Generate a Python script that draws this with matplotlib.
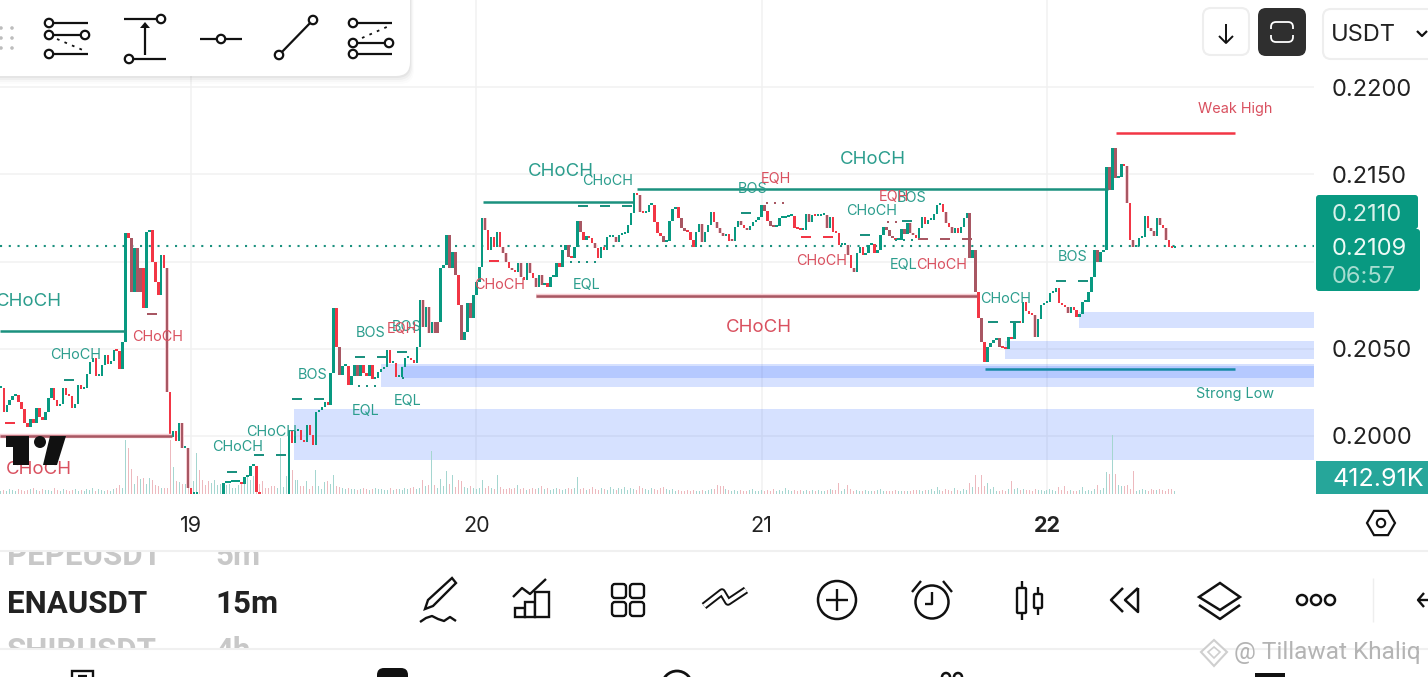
import numpy as np
import matplotlib
matplotlib.use('Agg')
import matplotlib.pyplot as plt
from matplotlib.patches import FancyBboxPatch, Rectangle, Circle, Polygon

plt.rcParams['font.family'] = ['Inter', 'DejaVu Sans']

# ---- candles, 15m: one close per bar (in 1e-4 USDT), open = previous close
first_bar_day = 18 + 32 / 96
bar_step = 1 / 96
closes = np.array([
    2027.5, 2013.8, 2017.8, 2020.6, 2022.9, 2023.5, 2019.5, 2015.5, 2007.4, 2005.2,
    2009.7, 2007.4, 2016.0, 2010.9, 2009.2, 2013.8, 2021.8, 2027.5, 2020.6, 2017.2,
    2018.3, 2027.5, 2023.5, 2022.9, 2016.0, 2018.3, 2029.2, 2026.9, 2027.5, 2035.5,
    2042.4, 2044.7, 2034.4, 2034.4, 2040.7, 2046.4, 2041.3, 2043.0, 2049.3, 2048.7,
    2038.4, 2053.9, 2116.3, 2113.5, 2082.5, 2107.7, 2082.5, 2096.3, 2073.3, 2116.9,
    2118.0, 2099.7, 2088.2, 2080.8, 2103.7, 2096.3, 2025.2, 1999.4, 2002.9, 1997.1,
    2007.4, 1993.1, 1993.1, 1970.2, 1966.8, 1966.8, 1966.8, 1965.0, 1964.0, 1962.0,
    1961.0, 1961.0, 1962.0, 1963.0, 1965.0, 1973.1, 1973.1, 1973.6, 1973.6, 1973.6,
    1973.6, 1972.5, 1976.5, 1977.1, 1982.8, 1982.8, 1967.9, 1966.8, 1965.0, 1964.0,
    1963.0, 1962.0, 1961.0, 1961.0, 1962.0, 1963.0, 1964.0, 2003.4, 1996.0, 2002.9,
    2003.4, 1997.7, 1996.6, 2006.3, 2000.6, 1994.8, 2013.8, 2014.9, 2016.6, 2019.5,
    2017.8, 2036.1, 2073.3, 2051.0, 2035.0, 2040.1, 2040.1, 2029.2, 2034.4, 2040.7,
    2034.4, 2040.7, 2036.1, 2034.4, 2040.7, 2032.7, 2033.2, 2036.7, 2038.4, 2039.5,
    2049.3, 2041.8, 2041.8, 2033.8, 2033.8, 2039.5, 2044.7, 2044.7, 2043.5, 2041.8,
    2051.0, 2077.9, 2062.5, 2073.9, 2059.0, 2065.3, 2059.0, 2065.3, 2096.3, 2098.0,
    2115.2, 2096.3, 2105.4, 2092.3, 2075.1, 2055.0, 2059.6, 2076.2, 2067.6, 2080.8,
    2088.2, 2096.8, 2124.9, 2118.0, 2106.6, 2114.0, 2108.3, 2116.9, 2108.3, 2104.9,
    2099.7, 2096.3, 2095.1, 2094.0, 2099.1, 2091.1, 2089.4, 2099.1, 2093.4, 2090.5,
    2085.4, 2092.3, 2086.5, 2087.7, 2085.4, 2091.1, 2091.1, 2099.1, 2096.8, 2106.6,
    2109.4, 2102.6, 2102.0, 2108.3, 2123.2, 2116.9, 2112.3, 2114.6, 2113.5, 2110.6,
    2107.7, 2102.0, 2108.3, 2106.6, 2114.0, 2114.0, 2114.0, 2111.2, 2115.2, 2115.7,
    2116.3, 2120.9, 2127.8, 2139.2, 2138.1, 2128.4, 2127.8, 2128.4, 2132.4, 2132.4,
    2122.6, 2116.3, 2114.6, 2111.2, 2111.7, 2123.2, 2130.1, 2131.2, 2124.9, 2119.2,
    2117.5, 2116.9, 2112.3, 2108.3, 2116.9, 2121.5, 2111.2, 2116.9, 2120.9, 2128.4,
    2122.6, 2119.2, 2116.3, 2114.6, 2115.7, 2111.7, 2111.7, 2119.8, 2123.2, 2120.9,
    2119.2, 2118.0, 2120.3, 2122.6, 2123.8, 2125.5, 2132.4, 2128.9, 2123.2, 2120.3,
    2119.8, 2120.3, 2124.9, 2124.9, 2125.5, 2126.1, 2126.1, 2119.2, 2118.6, 2118.0,
    2118.0, 2127.2, 2122.6, 2126.6, 2126.1, 2126.1, 2126.6, 2126.6, 2119.2, 2125.5,
    2116.9, 2116.3, 2109.4, 2109.4, 2109.4, 2103.7, 2096.3, 2094.0, 2104.9, 2108.3,
    2103.7, 2104.9, 2109.4, 2110.0, 2104.9, 2106.6, 2115.2, 2119.8, 2118.0, 2114.6,
    2113.5, 2112.3, 2112.3, 2118.6, 2115.7, 2122.0, 2116.3, 2115.2, 2113.5, 2119.2,
    2125.5, 2121.5, 2123.8, 2123.8, 2127.2, 2132.4, 2132.9, 2128.4, 2122.0, 2119.8,
    2116.3, 2119.2, 2116.3, 2119.8, 2124.9, 2127.8, 2102.0, 2106.6, 2082.5, 2067.6,
    2053.9, 2042.4, 2051.0, 2053.3, 2055.0, 2056.2, 2051.0, 2050.4, 2049.9, 2056.7,
    2055.6, 2064.7, 2065.3, 2064.7, 2076.8, 2071.6, 2069.9, 2069.3, 2056.7, 2067.0,
    2075.1, 2076.2, 2076.8, 2081.9, 2082.5, 2084.8, 2076.2, 2075.1, 2073.9, 2070.5,
    2073.9, 2072.2, 2068.2, 2069.9, 2076.8, 2076.8, 2082.5, 2091.1, 2106.6, 2099.7,
    2105.4, 2106.6, 2154.1, 2141.0, 2165.0, 2147.8, 2148.4, 2155.9, 2154.7, 2133.5,
    2112.3, 2108.3, 2108.9, 2113.5, 2114.0, 2126.1, 2119.2, 2117.5, 2114.6, 2124.9,
    2120.9, 2119.2, 2112.3, 2108.3, 2107.7, 2108.9]) / 1e4

# bars that show up as a dull red on the screenshot
dull_bars = [44, 46, 47, 56, 61, 63, 114, 120, 142, 144, 146, 147, 151, 153, 155, 158,
             163, 169, 170, 172, 175, 178, 180, 182, 191, 195, 200, 207, 215, 223, 229,
             230, 236, 241, 242, 243, 246, 249, 251, 257, 259, 260, 272, 278, 285, 287,
             298, 299, 300, 304, 306, 307, 318, 320, 326, 328, 330, 336, 348, 359, 369,
             373, 375, 379, 381, 387, 388, 390, 392]

# volume, read in steps of 80K
volumes = np.array([
    3, 4, 3, 5, 4, 3, 5, 4, 3, 4, 5, 6, 4, 3, 5, 4, 4, 3, 6, 4,
    3, 5, 4, 3, 4, 5, 3, 4, 3, 5, 4, 6, 3, 5, 4, 3, 4, 3, 5, 6,
    9, 6, 54, 46, 25, 10, 18, 15, 16, 10, 16, 14, 9, 8, 6, 6, 6, 54, 27, 13,
    12, 10, 10, 15, 12, 13, 41, 24, 14, 9, 13, 11, 14, 9, 10, 9, 9, 10, 6, 6,
    9, 10, 10, 18, 14, 18, 14, 10, 13, 6, 6, 8, 8, 6, 56, 7, 18, 18, 24, 14,
    14, 8, 8, 13, 5, 8, 24, 8, 5, 12, 13, 10, 19, 8, 7, 6, 5, 6, 5, 5,
    4, 5, 6, 5, 4, 5, 6, 5, 5, 4, 4, 6, 4, 5, 5, 4, 6, 5, 6, 7,
    5, 6, 14, 8, 9, 43, 9, 6, 15, 8, 23, 10, 19, 7, 14, 13, 7, 6, 8, 6,
    5, 6, 14, 6, 8, 6, 5, 19, 7, 5, 5, 6, 5, 6, 9, 5, 6, 4, 5, 6,
    5, 6, 8, 5, 6, 4, 5, 6, 5, 4, 5, 6, 5, 6, 17, 5, 6, 4, 5, 7,
    5, 4, 6, 5, 4, 7, 5, 4, 6, 5, 7, 4, 6, 5, 4, 8, 6, 5, 4, 6,
    5, 4, 6, 7, 5, 4, 5, 3, 4, 3, 3, 4, 3, 4, 3, 3, 4, 3, 4, 5,
    5, 9, 8, 8, 5, 4, 3, 4, 3, 4, 3, 3, 4, 5, 3, 3, 4, 3, 4, 3,
    5, 3, 4, 3, 6, 4, 3, 4, 3, 4, 3, 4, 3, 4, 3, 4, 3, 3, 4, 5,
    4, 4, 11, 3, 5, 9, 5, 3, 4, 3, 3, 4, 3, 3, 3, 4, 5, 3, 3, 3,
    3, 4, 3, 3, 3, 3, 3, 4, 4, 4, 3, 4, 4, 5, 3, 7, 4, 3, 5, 4,
    3, 6, 4, 3, 5, 4, 11, 7, 19, 7, 19, 8, 11, 5, 7, 3, 3, 4, 3, 5,
    13, 5, 6, 4, 5, 4, 4, 3, 5, 4, 4, 3, 4, 5, 4, 3, 7, 4, 8, 3,
    4, 3, 3, 4, 7, 3, 4, 3, 5, 9, 4, 6, 22, 20, 59, 20, 9, 8, 8, 9,
    5, 23, 3, 4, 5, 4, 3, 5, 4, 4, 5, 4, 3, 5, 5, 3]) * 80

last_price = 0.2109
price_ticks = [0.2200, 0.2150, 0.2100, 0.2050, 0.2000]
price_labels = ['0.2200', '0.2150', '', '0.2050', '0.2000']  # 0.2100 sits under the price tag
day_ticks = [19, 20, 21, 22]

# order blocks: start day, low, high
block_starts = [19.361, 19.666, 19.736, 21.853, 22.112]
block_lows = [0.19862, 0.20281, 0.20332, 0.20441, 0.20619]
block_highs = [0.20155, 0.20413, 0.20401, 0.20544, 0.20711]

# structure lines
line_from = [18.33, 18.33, 20.023, 20.563, 20.209, 22.242, 21.783]
line_to = [18.772, 18.933, 20.553, 22.214, 21.755, 22.659, 22.659]
line_price = [0.20602, 0.2000, 0.21341, 0.21413, 0.20802, 0.21739, 0.20384]
line_kind = ['green', 'dull', 'green', 'green', 'dull', 'red', 'blue']

# dashed swing levels
dash_from = [18.846, 18.555, 18.348, 19.126, 19.221, 19.354, 19.575, 19.722, 20.044,
             20.356, 20.928, 21.138, 21.345, 21.492, 21.548, 22.032, 21.793]
dash_to = [18.881, 18.590, 18.390, 19.161, 19.333, 19.466, 19.687, 19.757, 20.079,
           20.549, 20.963, 21.250, 21.380, 21.527, 21.737, 22.144, 21.905]
dash_price = [0.20699, 0.20321, 0.20074, 0.19794, 0.19891, 0.20212, 0.20453, 0.20481, 0.21003,
              0.21318, 0.21278, 0.21140, 0.21152, 0.21232, 0.21129, 0.20888, 0.20653]
dash_kind = ['dull', 'green', 'red', 'green', 'green', 'green', 'green', 'green', 'red',
             'green', 'green', 'red', 'green', 'green', 'dull', 'green', 'green']

# dotted equal highs / lows
dot_from = [19.585, 19.739, 20.328, 21.015, 21.439, 21.467]
dot_to = [19.655, 19.767, 20.433, 21.082, 21.492, 21.530]
dot_price = [0.20287, 0.20332, 0.20997, 0.21335, 0.21226, 0.21123]
dot_kind = ['green', 'green', 'green', 'dull', 'dull', 'green']

GREEN = '#089981'
RED = '#f23645'
DULL = '#a85763'
PINK = '#f7cdd3'
TEXT_GREEN = '#2b9d8d'
TEXT_RED = '#d9505f'
kind_color = {'green': '#1b917f', 'dull': DULL, 'red': RED, 'blue': '#178aa6'}

fig = plt.figure(figsize=(14.28, 6.77), dpi=100)

# chart area: pixels 0-1314 wide, 0-494 from the top
ax = fig.add_axes([0, 1 - 494 / 677, 1314 / 1428, 494 / 677])
ax.set_xlim(18.3306, 22.9358)
ax.set_ylim(0.196676, 0.224987)
for s in ax.spines.values():
    s.set_visible(False)
ax.set_axisbelow(True)
ax.grid(True, color='#f1f1f1', lw=1.1)

for start, low, high in zip(block_starts, block_lows, block_highs):
    ax.axhspan(low, high, xmin=(start - 18.3306) / (22.9358 - 18.3306), xmax=1,
               color='#2962ff', alpha=0.19, lw=0, zorder=1)

# volume shares the x axis, own scale
ax_vol = ax.twinx()
ax_vol.set_ylim(0, 494 * 80)
ax_vol.axis('off')
ax_vol.patch.set_visible(False)

days = first_bar_day + np.arange(len(closes)) * bar_step
opens = np.r_[closes[0], closes[:-1]]
up = closes >= opens
ax_vol.bar(days, volumes, width=0.0035, color=np.where(up, '#a5d6d0', '#edb9be'), lw=0, zorder=1)

# candles go on a third layer so that they stay over the volume
ax_c = ax.twinx()
ax_c.set_ylim(ax.get_ylim())
ax_c.axis('off')
ax_c.patch.set_visible(False)

# twinx moved the price ticks to the left, put them back
ax.yaxis.tick_right()
ax.set_yticks(price_ticks)
ax.set_yticklabels(price_labels, fontsize=17, color='#222222')
ax.set_xticks(day_ticks)
ax.set_xticklabels([str(d) for d in day_ticks], fontsize=15.5, color='#222222')
ax.get_xticklabels()[-1].set_fontweight('bold')
ax.tick_params(axis='both', length=0)
ax.tick_params(axis='y', pad=13)
ax.tick_params(axis='x', pad=16)

ax_c.axhline(last_price, color='#1b917f', lw=1.5, linestyle=(0, (1, 3.2)), zorder=2)

bar_colors = np.where(up, GREEN, RED).astype(object)
bar_colors[dull_bars] = DULL
bottoms = np.minimum(opens, closes)
heights = np.maximum(np.abs(closes - opens), 0.0001)
halo = np.array(dull_bars)
ax_c.bar(days[halo], heights[halo], bottom=bottoms[halo], width=0.0125, color=PINK, lw=0, zorder=3)
ax_c.bar(days, heights, bottom=bottoms, width=0.0085, color=list(bar_colors), lw=0, zorder=4)

for x0, x1, p, k in zip(line_from, line_to, line_price, line_kind):
    if k == 'dull':
        ax_c.plot([x0, x1], [p, p], color=PINK, lw=3.2, solid_capstyle='butt', zorder=4)
    ax_c.plot([x0, x1], [p, p], color=kind_color[k], lw=1.8, solid_capstyle='butt', zorder=5)
for x0, x1, p, k in zip(dash_from, dash_to, dash_price, dash_kind):
    ax_c.plot([x0, x1], [p, p], color=kind_color[k], lw=1.44, linestyle=(0, (5, 6)), zorder=5)
for x0, x1, p, k in zip(dot_from, dot_to, dot_price, dot_kind):
    ax_c.plot([x0, x1], [p, p], color=kind_color[k], lw=1.44, linestyle=(0, (1, 3)), zorder=5)

# ---- everything on top of the chart, in screen pixels
ui = fig.add_axes([0, 0, 1, 1])
ui.set_xlim(0, 1428)
ui.set_ylim(677, 0)
ui.axis('off')
ui.patch.set_visible(False)

BIG = 13.4
SMALL = 10.4
labels = [
    ('CHoCH', 29, 301, TEXT_GREEN, BIG), ('CHoCH', 561, 171, TEXT_GREEN, BIG),
    ('CHoCH', 873, 159, TEXT_GREEN, BIG), ('CHoCH', 759, 327, TEXT_RED, BIG),
    ('CHoCH', 39, 468, TEXT_RED, BIG),
    ('CHoCH', 76, 354, TEXT_GREEN, SMALL), ('CHoCH', 238, 446, TEXT_GREEN, SMALL),
    ('CHoCH', 272, 431, TEXT_GREEN, SMALL), ('CHoCH', 608, 180, TEXT_GREEN, SMALL),
    ('CHoCH', 872, 210, TEXT_GREEN, SMALL), ('CHoCH', 1006, 298, TEXT_GREEN, SMALL),
    ('CHoCH', 158, 336, TEXT_RED, SMALL), ('CHoCH', 500, 284, TEXT_RED, SMALL),
    ('CHoCH', 822, 260, TEXT_RED, SMALL), ('CHoCH', 942, 264, TEXT_RED, SMALL),
    ('BOS', 313, 374, TEXT_GREEN, SMALL), ('BOS', 371, 332, TEXT_GREEN, SMALL),
    ('BOS', 407, 326, TEXT_GREEN, SMALL), ('BOS', 753, 188, TEXT_GREEN, SMALL),
    ('BOS', 912, 197, TEXT_GREEN, SMALL), ('BOS', 1073, 256, TEXT_GREEN, SMALL),
    ('EQL', 366, 410, TEXT_GREEN, SMALL), ('EQL', 408, 400, TEXT_GREEN, SMALL),
    ('EQL', 587, 284, TEXT_GREEN, SMALL), ('EQL', 904, 264, TEXT_GREEN, SMALL),
    ('EQH', 402, 328, TEXT_RED, SMALL), ('EQH', 776, 178, TEXT_RED, SMALL),
    ('EQH', 894, 196, TEXT_RED, SMALL),
    ('Weak High', 1235, 108, TEXT_RED, SMALL), ('Strong Low', 1235, 393, TEXT_GREEN, SMALL),
]
for txt, x, y, c, fs in labels:
    ui.text(x, y + 1, txt, color=c, fontsize=fs, ha='center', va='center')


def box(x0, y0, x1, y1, fc, ec='none', r=6, lw=1.5, z=5, alpha=None):
    ui.add_patch(FancyBboxPatch((x0, y0), x1 - x0, y1 - y0, boxstyle='round,pad=0,rounding_size=%g' % r,
                                fc=fc, ec=ec, lw=lw, zorder=z, alpha=alpha))


def stroke(xs, ys, lw=1.6, c='#111111', z=7, **kw):
    ui.plot(xs, ys, color=c, lw=lw, zorder=z, solid_capstyle=kw.pop('cap', 'butt'), **kw)


def ring(x, y, r=4.2, c='#111111', lw=1.6, z=8, fc='white'):
    ui.add_patch(Circle((x, y), r, fc=fc, ec=c, lw=lw, zorder=z))


# tradingview logo
ui.add_patch(Polygon([(6, 436), (29, 436), (29, 465), (13, 465), (13, 447), (6, 447)], fc='#111111', ec='none', zorder=5))
ui.add_patch(Circle((40, 442), 6, fc='#111111', ec='none', zorder=5))
ui.add_patch(Polygon([(50, 436), (66, 436), (57, 465), (43, 465)], fc='#111111', ec='none', zorder=5))

# drawing toolbar, top left
for d, a in zip((8, 6, 4, 2), (0.012, 0.02, 0.03, 0.04)):
    box(-20, -20, 410 + d * 0.5, 76 + d, '#000000', r=14, z=5, alpha=a)
box(-20, -20, 410, 76, 'white', r=14, z=6)
for xd in (1, 12):
    for yd in (28, 38, 48):
        ui.add_patch(Circle((xd, yd), 1.8, fc='#bdbdbd', ec='none', zorder=7))

stroke([53, 88], [23, 23]); stroke([53, 81], [35, 35]); stroke([53, 88], [54, 54])
stroke([57, 85], [39, 51], lw=1.3, linestyle=(0, (1.5, 3)))
for p in [(49, 23), (49, 35), (49, 54), (85, 35)]:
    ring(*p)
stroke([124, 157], [19, 19]); stroke([133, 166], [59, 59]); stroke([145, 145], [55, 27])
ui.add_patch(Polygon([(145, 22), (140, 28), (150, 28)], fc='#111111', ec='none', zorder=7))
ring(161, 19); ring(129, 59)
stroke([200, 242], [39, 39]); ring(221, 39)
stroke([279, 313], [55, 20]); ring(279, 55); ring(313, 20)
stroke([357, 392], [23, 23]); stroke([357, 385], [43, 43]); stroke([357, 392], [54, 54])
stroke([362, 389], [38, 26], lw=1.3, linestyle=(0, (1.5, 3)))
for p in [(353, 23), (353, 43), (353, 54), (389, 43)]:
    ring(*p)

# top right buttons
box(1203, 8, 1249, 55, 'white', ec='#eeeeee', r=8)
stroke([1226, 1226], [24, 43], lw=1.4)
stroke([1219, 1226, 1233], [36, 43, 36], lw=1.4)
box(1258, 8, 1306, 56, '#2f2f2f', r=8)
box(1271, 22, 1293, 42, '#2f2f2f', ec='white', r=5, lw=1.3, z=6)
ui.add_patch(Rectangle((1269, 29), 26, 6, fc='#2f2f2f', ec='none', zorder=7))
box(1323, 9, 1445, 59, 'white', ec='#eeeeee', r=8)
ui.text(1331, 35, 'USDT', fontsize=17, color='#222222', va='center', zorder=7)
stroke([1417, 1422, 1427], [31, 36, 31], lw=1.6)

# price tags
box(1316, 195, 1418, 229, GREEN, r=3)
box(1316, 229, 1420, 291, GREEN, r=3)
ui.add_patch(Rectangle((1316, 225), 100, 10, fc=GREEN, ec='none', zorder=5))
ui.text(1332, 215, '0.2110', fontsize=17, color='#d8f1ea', va='center', zorder=7)
ui.text(1332, 249, '0.2109', fontsize=17, color='#eefaf6', va='center', zorder=7)
ui.text(1332, 277, '06:57', fontsize=17, color='#a6ddd0', va='center', zorder=7)
ui.add_patch(Rectangle((1316, 461), 112, 33, fc='#26a69a', ec='none', zorder=5))
ui.text(1332, 480, '412.91K', fontsize=18, color='white', va='center', zorder=7)

# settings hexagon
ang = np.radians(np.arange(0, 360, 60))
ui.add_patch(Polygon(np.c_[1381 + 14 * np.cos(ang), 523 + 14 * np.sin(ang)], fc='white', ec='#111111', lw=1.6, zorder=7))
ring(1381, 523, 4.2, lw=1.5)

# bottom strip
stroke([0, 1428], [551, 551], lw=1.5, c='#f0f0f0')
stroke([0, 1428], [649, 649], lw=1.5, c='#f0f0f0')
clip_mid = Rectangle((0, 552), 1428, 96, transform=ui.transData)
for txt, x, y, c in [('PEPEUSDT', 7, 556, '#c8c8c8'), ('5m', 215, 556, '#c8c8c8'),
                     ('ENAUSDT', 7, 604, '#222222'), ('15m', 215, 604, '#222222'),
                     ('SHIBUSDT', 7, 651, '#c8c8c8'), ('4h', 215, 651, '#c8c8c8')]:
    t = ui.text(x, y, txt, fontsize=22.5, color=c, fontweight='bold', va='center', family='Roboto', zorder=7)
    t.set_clip_path(clip_mid)
    t.set_clip_on(True)

# pencil
ui.add_patch(Polygon([(452, 578), (456, 583), (433, 606), (425, 609), (428, 600)], fc='white', ec='#111111', lw=1.7, zorder=7))
t_ = np.array([0, 1, 2, 3, 4, 5, 6])
stroke(420 + t_ * 6, [622, 618, 616, 619, 621, 617, 621], lw=1.7)
# indicators
stroke([513, 522, 530, 546], [597, 588, 594, 579], lw=1.7)
for x0, x1, y0 in ((515, 525, 608), (525, 535, 602), (535, 549, 592)):
    ui.add_patch(Rectangle((x0, y0), x1 - x0, 617 - y0, fc='white', ec='#111111', lw=1.7, zorder=7))
# templates
for x in (612, 630):
    for y in (584, 602):
        box(x, y, x + 14, y + 14, 'white', ec='#111111', r=3, lw=1.7, z=7)
# double chevron
stroke([704, 722, 728, 746], [606, 592, 602, 590], lw=5.4, c='#111111')
stroke([704, 722, 728, 746], [606, 592, 602, 590], lw=2.6, c='white', z=8)
# plus
ring(837, 600, 19, lw=1.8)
stroke([837, 837], [589, 611], lw=1.7, z=9); stroke([826, 848], [600, 600], lw=1.7, z=9)
# alarm
ring(932, 602, 16.5, lw=1.8)
stroke([932, 932, 925], [592, 604, 604], lw=1.7, z=9)
stroke([912, 921], [592, 581], lw=1.7); stroke([943, 952], [581, 592], lw=1.7)
# candles
box(1017, 588, 1026, 613, 'white', ec='#111111', r=1, lw=1.7, z=7)
box(1034, 594, 1042, 608, 'white', ec='#111111', r=1, lw=1.7, z=7)
stroke([1021.5, 1021.5], [581, 588], lw=1.7); stroke([1021.5, 1021.5], [613, 620], lw=1.7)
stroke([1038, 1038], [587, 594], lw=1.7); stroke([1038, 1038], [608, 615], lw=1.7)
# rewind
stroke([1123, 1111, 1123], [588, 600, 612], lw=1.8)
stroke([1138, 1125, 1138, 1138], [588, 600, 612, 588], lw=1.8)
# layers
ui.add_patch(Polygon([(1220, 583), (1240, 597), (1220, 610), (1199, 597)], fc='white', ec='#111111', lw=1.8, zorder=7))
stroke([1199, 1220, 1240], [605, 619, 605], lw=1.8)
# three dots
for x in (1302, 1316, 1330):
    ring(x, 600, 5, lw=1.8)
stroke([1373, 1373], [578, 622], lw=1, c='#eeeeee')
stroke([1428, 1418], [600, 600], lw=1.7); stroke([1424, 1418, 1424], [593, 600, 607], lw=1.7)

# tab bar icons cut by the bottom edge
box(377, 668, 408, 700, '#111111', r=7)
ui.add_patch(Rectangle((72, 671), 21, 20, fc='white', ec='#111111', lw=1.7, zorder=7))
stroke([78, 87], [676, 676], lw=1.6)
ring(677, 686, 15, lw=2)
ring(946, 677, 4, lw=1.8); ring(958, 677, 4, lw=1.8)
ui.add_patch(Rectangle((1255, 673), 30, 10, fc='#111111', ec='none', zorder=7))

# watermark
ui.add_patch(Polygon([(1214, 640), (1227, 652), (1214, 666), (1201, 652)], fc='white', ec='#cfcfcf', lw=1.5, zorder=9))
ui.add_patch(Polygon([(1214, 647), (1220, 652), (1214, 658), (1208, 652)], fc='white', ec='#cfcfcf', lw=1.2, zorder=9))
ui.text(1234, 653, '@ Tillawat Khaliq', fontsize=17.6, color='#b4b4b4', va='center', family='Roboto', zorder=9)

fig.savefig('out.png', dpi=100)
